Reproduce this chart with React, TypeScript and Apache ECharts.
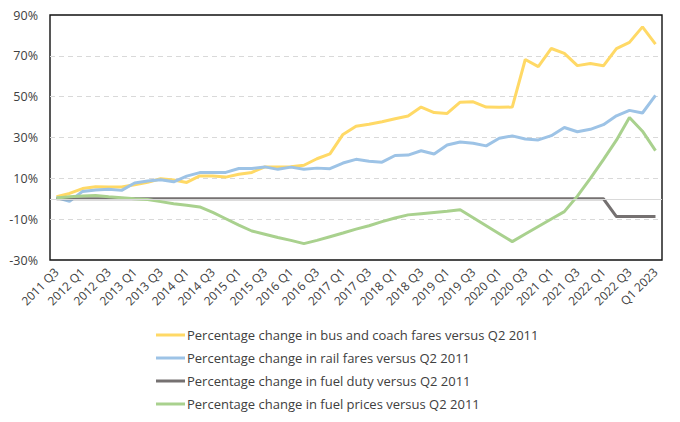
import React, { useEffect, useRef } from "react";
import * as echarts from "echarts";

const categories = [
  "2011 Q3", "2011 Q4",
  "2012 Q1", "2012 Q2", "2012 Q3", "2012 Q4",
  "2013 Q1", "2013 Q2", "2013 Q3", "2013 Q4",
  "2014 Q1", "2014 Q2", "2014 Q3", "2014 Q4",
  "2015 Q1", "2015 Q2", "2015 Q3", "2015 Q4",
  "2016 Q1", "2016 Q2", "2016 Q3", "2016 Q4",
  "2017 Q1", "2017 Q2", "2017 Q3", "2017 Q4",
  "2018 Q1", "2018 Q2", "2018 Q3", "2018 Q4",
  "2019 Q1", "2019 Q2", "2019 Q3", "2019 Q4",
  "2020 Q1", "2020 Q2", "2020 Q3", "2020 Q4",
  "2021 Q1", "2021 Q2", "2021 Q3", "2021 Q4",
  "2022 Q1", "2022 Q2", "2022 Q3", "2022 Q4",
  "Q1 2023",
];

const busFares = [
  1, 2.6, 5, 5.9, 5.7, 5.8, 6.9, 8.1, 9.8, 9.2,
  8, 11.2, 11.1, 10.6, 12, 12.9, 15.6, 15.6, 15.7, 16.4,
  19.6, 22, 31.5, 35.5, 36.5, 37.7, 39.2, 40.5, 44.9, 42.2,
  41.8, 47.3, 47.5, 44.9, 44.8, 44.9, 68.2, 64.7, 73.6, 71.2,
  65.2, 66.2, 65.1, 73.5, 76.6, 84.2, 75.7,
];

const railFares = [
  0.6, -1.3, 3.6, 4.3, 4.7, 4.1, 7.7, 8.7, 9.3, 8.3,
  11.1, 12.8, 12.9, 12.9, 14.8, 14.8, 15.6, 14.4, 15.5, 14.4,
  15, 14.7, 17.5, 19.3, 18.4, 17.9, 21.2, 21.4, 23.5, 21.9,
  26.3, 27.8, 27.2, 25.9, 29.6, 30.8, 29.3, 28.8, 30.9, 34.9,
  32.8, 34, 36.3, 40.6, 43.3, 42, 50.6,
];

const fuelDuty = [
  0, 0, 0, 0, 0, 0, 0, 0, 0, 0,
  0, 0, 0, 0, 0, 0, 0, 0, 0, 0,
  0, 0, 0, 0, 0, 0, 0, 0, 0, 0,
  0, 0, 0, 0, 0, 0, 0, 0, 0, 0,
  0, 0, 0, -8.7, -8.7, -8.7, -8.7,
];

const fuelPrices = [
  0.4, 1, 1.3, 1.6, 1, 0.5, 0, -0.4, -1.4, -2.4,
  -3.2, -4, -6.7, -9.8, -12.9, -15.8, -17.4, -19, -20.4, -22,
  -20.4, -18.6, -16.8, -14.9, -13.2, -11.2, -9.4, -7.9, -7.3, -6.7,
  -6.1, -5.4, -9.3, -13.2, -17.1, -21, -17.3, -13.6, -9.9, -6.3,
  1.3, 10, 19.2, 28.7, 39.8, 33.1, 23.6,
];

const seriesNames = [
  "Percentage change in bus and coach fares versus Q2 2011",
  "Percentage change in rail fares versus Q2 2011",
  "Percentage change in fuel duty versus Q2 2011",
  "Percentage change in fuel prices versus Q2 2011",
];

const colors = ["#FFD966", "#9DC3E6", "#757171", "#A9D18E"];

const FONT = "'Open Sans', 'DejaVu Sans', sans-serif";

export default function App() {
  const ref = useRef<HTMLDivElement>(null);

  useEffect(() => {
    document.body.style.margin = "0";
    if (!ref.current) return;
    const chart = echarts.init(ref.current, null, { renderer: "svg" });
    const values = [busFares, railFares, fuelDuty, fuelPrices];
    chart.setOption({
      animation: false,
      color: colors,
      textStyle: { fontFamily: FONT },
      grid: {
        left: 50,
        right: 18,
        top: 15,
        bottom: 162,
        show: true,
        borderColor: "#111111",
        borderWidth: 1.4,
        backgroundColor: "transparent",
      },
      legend: {
        orient: "vertical",
        left: 151,
        top: 323,
        itemWidth: 29,
        itemHeight: 3,
        itemGap: 9,
        icon: "rect",
        textStyle: {
          fontFamily: FONT,
          fontSize: 13,
          color: "#404040",
          lineHeight: 14,
          padding: [0, 0, 0, -3],
        },
        data: seriesNames,
      },
      xAxis: {
        type: "category",
        data: categories,
        boundaryGap: true,
        axisLine: { show: false },
        axisTick: { show: false },
        axisLabel: {
          interval: 1,
          rotate: 45,
          margin: 10,
          fontSize: 12,
          color: "#404040",
          fontFamily: FONT,
        },
        splitLine: { show: false },
      },
      yAxis: {
        type: "value",
        min: -30,
        max: 90,
        interval: 20,
        axisLine: { show: false },
        axisTick: { show: false },
        axisLabel: {
          formatter: "{value}%",
          margin: 12,
          fontSize: 12.5,
          color: "#404040",
          fontFamily: FONT,
        },
        splitLine: {
          show: true,
          showMinLine: false,
          showMaxLine: false,
          lineStyle: { color: "#D9D9D9", type: [5, 4], width: 1 },
        },
      },
      series: values.map((v, idx) => ({
        name: seriesNames[idx],
        type: "line",
        data: v,
        showSymbol: false,
        symbol: "none",
        lineStyle: { width: 3, color: colors[idx] },
        itemStyle: { color: colors[idx] },
        ...(idx === 0
          ? {
              markLine: {
                silent: true,
                symbol: "none",
                label: { show: false },
                lineStyle: { color: "#D9D9D9", type: "solid", width: 1 },
                data: [{ yAxis: 0 }],
              },
            }
          : {}),
      })),
    });
    return () => chart.dispose();
  }, []);

  return <div ref={ref} style={{ width: 680, height: 422 }} />;
}
